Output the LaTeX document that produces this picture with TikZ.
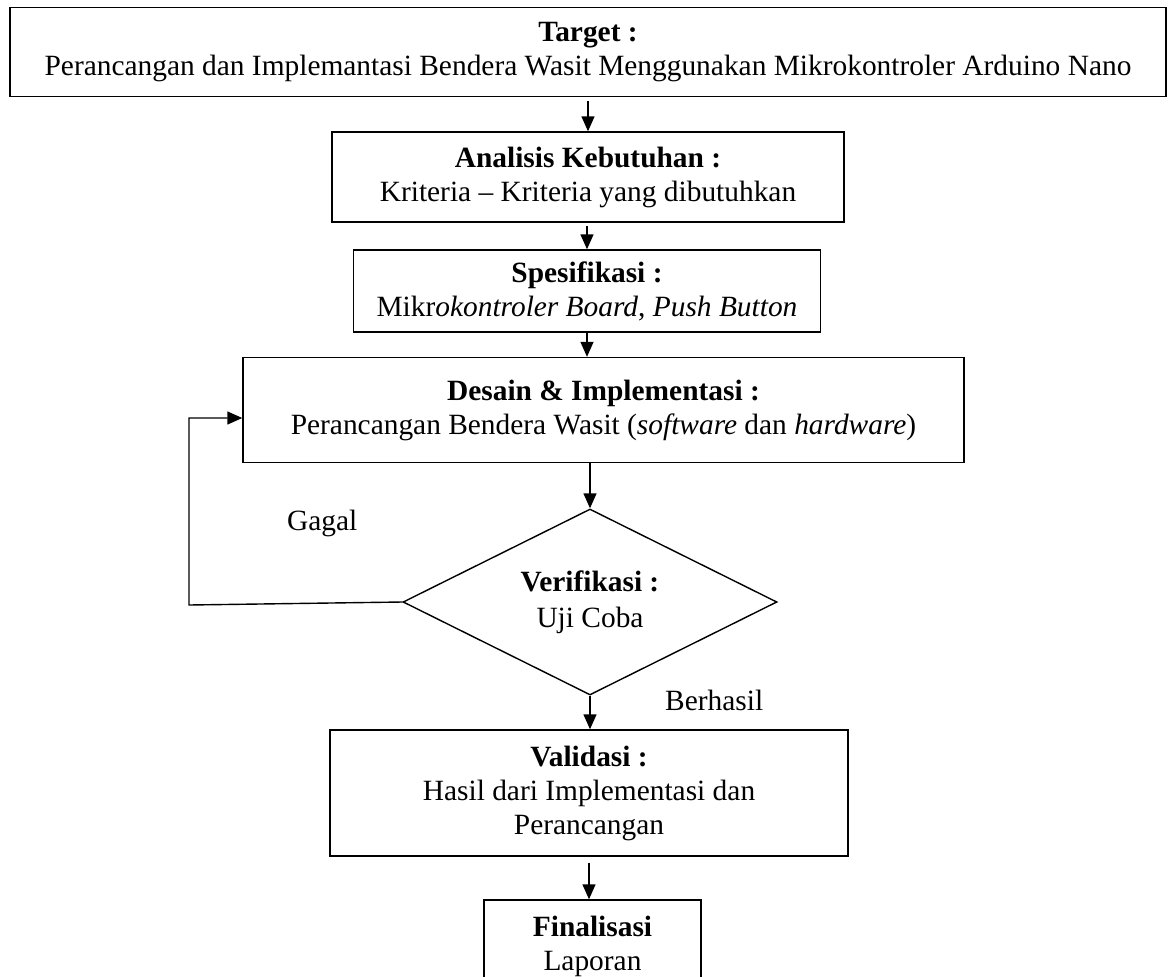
\documentclass[tikz,border=0pt]{standalone}
\usepackage{fontspec}
\setmainfont{Liberation Serif}
\usetikzlibrary{arrows.meta,shapes.geometric,calc}
\begin{document}
\begin{tikzpicture}[x=1pt,y=-1pt,
  box/.style={draw,line width=1.4pt,rectangle,inner sep=0pt,align=center,
    font=\fontsize{29.4}{34}\selectfont},
  lbl/.style={inner sep=0pt,font=\fontsize{29.4}{34}\selectfont},
  arr/.style={line width=1.4pt,-{Triangle[length=15pt,width=13pt]}}]
\useasboundingbox (0,0) rectangle (1170,977);
\node[box,minimum width=1156pt,minimum height=89pt] (target) at (588,52)
  {\textbf{Target :}\\Perancangan dan Implemantasi Bendera Wasit Menggunakan Mikrokontroler Arduino Nano};
\node[box,minimum width=512pt,minimum height=90pt] (anal) at (588,177)
  {\textbf{Analisis Kebutuhan :}\\Kriteria -- Kriteria yang dibutuhkan};
\node[box,minimum width=467pt,minimum height=82pt] (spec) at (587,291)
  {\textbf{Spesifikasi :}\\Mikr\textit{okontroler Board}, \textit{Push Button}};
\node[box,minimum width=721pt,minimum height=105pt] (desain) at (603.5,410)
  {\textbf{Desain \& Implementasi :}\\Perancangan Bendera Wasit (\textit{software} dan \textit{hardware})};
\node[draw,line width=1.4pt,diamond,aspect=2,inner sep=0pt,minimum width=374pt,minimum height=186pt,
  align=center,font=\fontsize{29.4}{36}\selectfont] (verif) at (590,602)
  {\textbf{Verifikasi :}\\Uji Coba};
\node[box,minimum width=518pt,minimum height=126pt] (valid) at (589,793)
  {\textbf{Validasi :}\\Hasil dari Implementasi dan\\Perancangan};
\node[box,minimum width=217pt,minimum height=93pt] (final) at (592.5,946.5)
  {\textbf{Finalisasi}\\Laporan};
\node[lbl,anchor=west] (gagal) at (287,523) {Gagal};
\node[lbl,anchor=west] (berhasil) at (665,700) {Berhasil};
\coordinate (loop) at (189,605);
\draw[arr,shorten <=4pt] (target.south -| anal.north) -- (anal.north);
\draw[arr,shorten <=3pt] (spec.north |- anal.south) -- (spec.north);
\draw[arr] (spec.south) -- (spec.south |- desain.north);
\draw[arr] (verif.north |- desain.south) -- (verif.north);
\draw[arr] (verif.south) -- (verif.south |- valid.north);
\draw[arr,shorten <=6pt] (valid.south) -- (valid.south |- final.north);
\draw[arr] (verif.west) -- (loop) |- ([yshift=-8pt]desain.west);
\end{tikzpicture}
\end{document}
